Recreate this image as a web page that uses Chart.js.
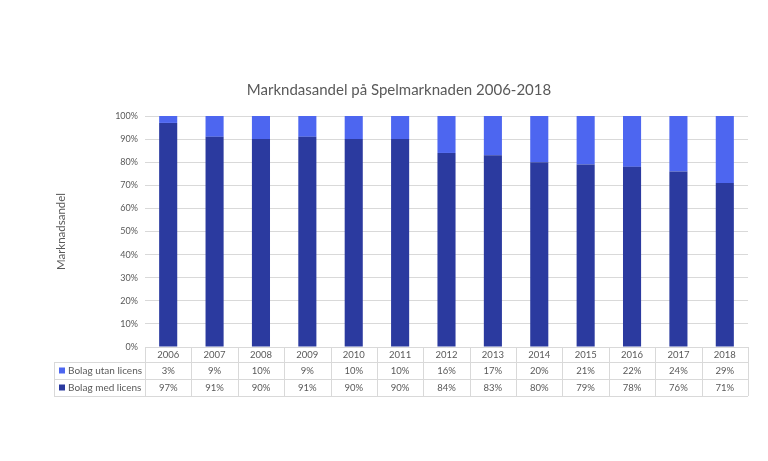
<!DOCTYPE html>
<html>
<head>
<meta charset="utf-8">
<script src="https://cdn.jsdelivr.net/npm/chart.js@4.4.1/dist/chart.umd.min.js"></script>
<style>
  html,body{margin:0;padding:0;background:#fff;}
  #wrap{width:768px;height:461px;position:relative;}
</style>
</head>
<body>
<div id="wrap"><canvas id="c" width="768" height="461"></canvas></div>
<script>
const chartTitle = 'Markndasandel på Spelmarknaden 2006-2018';
const yTitle = 'Marknadsandel';
const years = ['2006','2007','2008','2009','2010','2011','2012','2013','2014','2015','2016','2017','2018'];
const seriesNames = ['Bolag utan licens','Bolag med licens'];
const utanLicens = [3,9,10,9,10,10,16,17,20,21,22,24,29];
const medLicens = [97,91,90,91,90,90,84,83,80,79,78,76,71];
const utanLabels = ['3%','9%','10%','9%','10%','10%','16%','17%','20%','21%','22%','24%','29%'];
const medLabels = ['97%','91%','90%','91%','90%','90%','84%','83%','80%','79%','78%','76%','71%'];

const COL_DARK = '#2b3a9f';
const COL_LIGHT = '#4d66f0';
const TXT = '#595959';
const LINE = '#d9d9d9';
const FONT = 'Lato, "Open Sans", sans-serif';

const tablePlugin = {
  id: 'tablePlugin',
  afterDraw(chart) {
    const ctx = chart.ctx;
    const xs = chart.scales.x;
    const ca = chart.chartArea;
    const n = years.length;
    const w = (ca.right - ca.left) / n;
    const top = ca.bottom;
    const r1 = top + 15, r2 = top + 32, r3 = top + 49;
    const labelLeft = 54;
    ctx.save();
    // title
    ctx.fillStyle = TXT;
    ctx.font = '15px ' + FONT;
    ctx.textAlign = 'center';
    ctx.textBaseline = 'middle';
    ctx.fillText(chartTitle, 399, 90);

    ctx.strokeStyle = LINE;
    ctx.lineWidth = 1;
    ctx.beginPath();
    for (let i = 0; i <= n; i++) {
      const x = Math.round(ca.left + i * w) + 0.5;
      ctx.moveTo(x, top); ctx.lineTo(x, r3);
    }
    [r1, r2, r3].forEach(y => { ctx.moveTo(labelLeft, y + 0.5); ctx.lineTo(ca.right, y + 0.5); });
    ctx.moveTo(labelLeft + 0.5, r1); ctx.lineTo(labelLeft + 0.5, r3);
    ctx.moveTo(ca.left, top + 0.5); ctx.lineTo(ca.right, top + 0.5);
    ctx.stroke();

    ctx.font = '9.5px ' + FONT;
    ctx.fillStyle = TXT;
    ctx.textAlign = 'center';
    for (let i = 0; i < n; i++) {
      const cx = xs.getPixelForValue(i);
      ctx.fillText(years[i], cx, (top + r1) / 2 + 0.5);
      ctx.fillText(utanLabels[i], cx, (r1 + r2) / 2 + 0.5);
      ctx.fillText(medLabels[i], cx, (r2 + r3) / 2 + 0.5);
    }
    // legend keys
    ctx.font = '10px ' + FONT;
    ctx.textAlign = 'left';
    const rowsY = [(r1 + r2) / 2, (r2 + r3) / 2];
    const cols = [COL_LIGHT, COL_DARK];
    for (let k = 0; k < 2; k++) {
      ctx.fillStyle = cols[k];
      ctx.fillRect(59, rowsY[k] - 3, 6, 6);
      ctx.fillStyle = TXT;
      ctx.fillText(seriesNames[k], 68, rowsY[k] + 0.5);
    }
    ctx.restore();
  }
};

new Chart(document.getElementById('c'), {
  type: 'bar',
  data: {
    labels: years,
    datasets: [
      { label: seriesNames[1], data: medLicens, backgroundColor: COL_DARK, barPercentage: 0.39, categoryPercentage: 1.0 },
      { label: seriesNames[0], data: utanLicens, backgroundColor: COL_LIGHT, barPercentage: 0.39, categoryPercentage: 1.0 }
    ]
  },
  options: {
    responsive: false,
    animation: false,
    devicePixelRatio: 1,
    layout: { padding: { left: 0, right: 20, top: 116, bottom: 114 } },
    plugins: { legend: { display: false }, title: { display: false }, tooltip: { enabled: false } },
    scales: {
      x: { stacked: true, display: false },
      y: {
        stacked: true, min: 0, max: 100,
        afterFit(s) { s.width = 145; },
        ticks: { stepSize: 10, padding: 7, color: TXT, font: { size: 9, family: FONT }, callback: v => v + '%' },
        grid: { color: LINE, drawTicks: false },
        border: { display: false },
        title: { display: true, text: yTitle, color: TXT, font: { size: 11.5, family: FONT }, padding: { top: 54, bottom: 0 } }
      }
    }
  },
  plugins: [tablePlugin]
});
</script>
</body>
</html>
